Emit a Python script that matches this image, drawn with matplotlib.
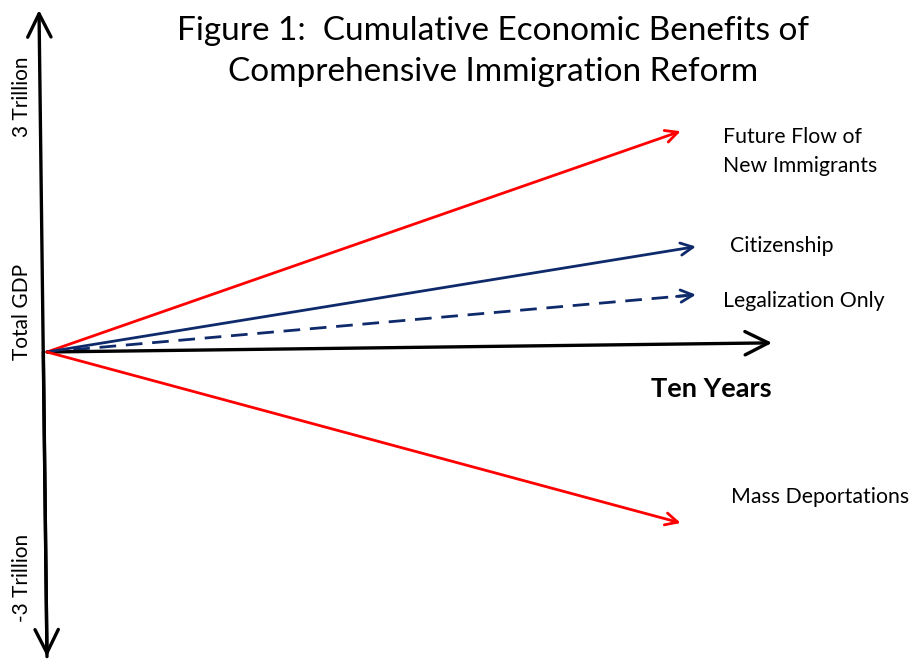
import matplotlib
matplotlib.use("Agg")
from matplotlib import pyplot as plt

# scenario end points (years, trillions of GDP)
scenarios = ["Future Flow of\nNew Immigrants", "Citizenship",
             "Legalization Only", "Mass Deportations"]
end_year = [8.74, 8.95, 8.95, 8.74]
end_gdp = [2.66, 1.27, 0.69, -2.06]
colors = ["#ff0000", "#0f2a6b", "#0f2a6b", "#ff0000"]
styles = ["-", "-", "--", "-"]

# label anchors (left edge, centre)
label_xy = [(9.32, 2.42), (9.42, 1.28), (9.32, 0.61), (9.43, -1.75)]

plt.rcParams["font.family"] = ["Lato", "DejaVu Sans"]

fig = plt.figure(figsize=(9.12, 6.59), dpi=100)
ax = fig.add_axes([0, 0, 1, 1])
ax.set_xlim(-0.648, 11.93)
ax.set_ylim(-3.699, 4.241)
ax.axis("off")

axis_arrow = dict(arrowstyle="->", color="black", lw=2.4,
                  mutation_scale=42, shrinkA=0, shrinkB=0)
ax.annotate("", xy=(-0.11, 4.12), xytext=(0.0, -3.67), arrowprops=axis_arrow)
ax.annotate("", xy=(0.0, -3.67), xytext=(-0.05, 0.0), arrowprops=axis_arrow)
ax.annotate("", xy=(10.0, 0.11), xytext=(0.0, 0.0), arrowprops=axis_arrow)

for name, x, y, c, ls, (tx, ty) in zip(scenarios, end_year, end_gdp,
                                       colors, styles, label_xy):
    if ls == "--":
        ax.plot([0, x * 0.985], [0, y * 0.985], color=c, lw=2.0,
                dashes=(6, 3.5), solid_capstyle="butt")
        ax.annotate("", xy=(x, y), xytext=(x * 0.97, y * 0.97),
                    arrowprops=dict(arrowstyle="->", color=c, lw=2.0,
                                    mutation_scale=22, shrinkA=0, shrinkB=0))
    else:
        ax.annotate("", xy=(x, y), xytext=(0, 0),
                    arrowprops=dict(arrowstyle="->", color=c, lw=2.0,
                                    mutation_scale=22, shrinkA=0, shrinkB=0))
    ax.text(tx, ty, name, ha="left", va="center", fontsize=15.3,
            linespacing=1.55)

ax.text(10.0, -0.44, "Ten Years", ha="right", va="center",
        fontsize=19.5, fontweight="bold")

# y axis labels
ax.text(-0.34, 3.08, "3 Trillion", rotation=90, ha="center", va="center",
        fontsize=15)
ax.text(-0.34, 0.48, "Total GDP", rotation=90, ha="center", va="center",
        fontsize=15)
ax.text(-0.34, -2.72, "-3 Trillion", rotation=90, ha="center", va="center",
        fontsize=15)

fig.text(0.541, 0.976, "Figure 1:  Cumulative Economic Benefits of\n"
         "Comprehensive Immigration Reform", ha="center", va="top",
         fontsize=24, linespacing=1.45)

fig.savefig("out.png", dpi=100)
